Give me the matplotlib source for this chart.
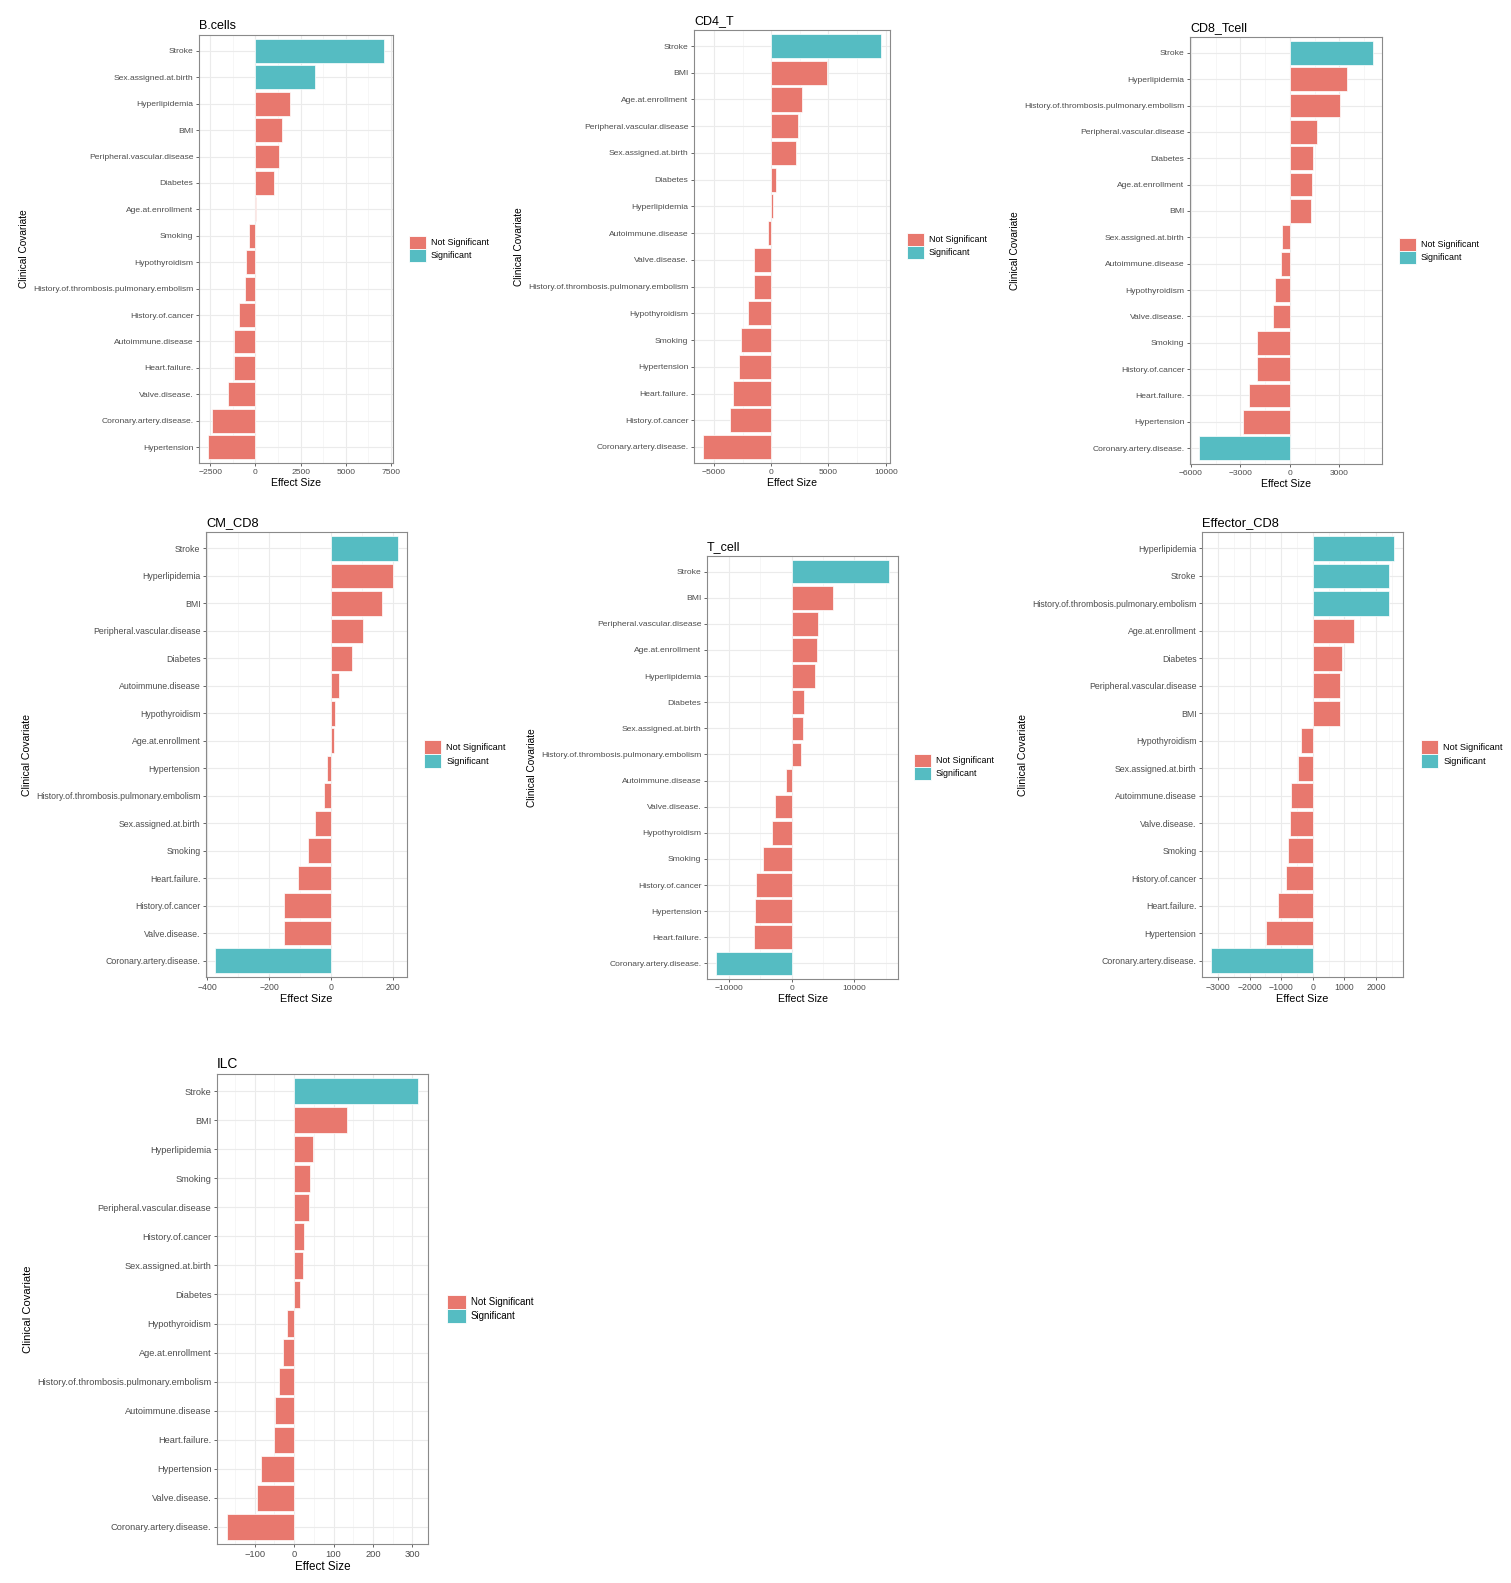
import matplotlib
matplotlib.use("Agg")
import matplotlib.pyplot as plt
from matplotlib.patches import Patch
from matplotlib.ticker import FixedLocator

plt.rcParams['font.family'] = ['Liberation Sans', 'DejaVu Sans']

W, H = 1511, 1583
NOT_SIG = '#E8786E'
SIG = '#55BCC2'

# ---- data (top to bottom as drawn) ----
bcells_labels = ["Stroke", "Sex.assigned.at.birth", "Hyperlipidemia", "BMI",
                 "Peripheral.vascular.disease", "Diabetes", "Age.at.enrollment", "Smoking",
                 "Hypothyroidism", "History.of.thrombosis.pulmonary.embolism", "History.of.cancer",
                 "Autoimmune.disease", "Heart.failure.", "Valve.disease.",
                 "Coronary.artery.disease.", "Hypertension"]
bcells_values = [7130, 3280, 1940, 1480, 1310, 1020, 50, -370, -500, -590, -910,
                 -1180, -1200, -1540, -2410, -2630]
bcells_sig = [1, 1, 0, 0, 0, 0, 0, 0, 0, 0, 0, 0, 0, 0, 0, 0]
bcells_ticks = [-2500, 0, 2500, 5000, 7500]

cd4_labels = ["Stroke", "BMI", "Age.at.enrollment", "Peripheral.vascular.disease",
              "Sex.assigned.at.birth", "Diabetes", "Hyperlipidemia", "Autoimmune.disease",
              "Valve.disease.", "History.of.thrombosis.pulmonary.embolism", "Hypothyroidism",
              "Smoking", "Hypertension", "Heart.failure.", "History.of.cancer",
              "Coronary.artery.disease."]
cd4_values = [9590, 4860, 2730, 2380, 2180, 410, 170, -320, -1480, -1540, -2030,
              -2650, -2820, -3340, -3580, -5960]
cd4_sig = [1, 0, 0, 0, 0, 0, 0, 0, 0, 0, 0, 0, 0, 0, 0, 0]
cd4_ticks = [-5000, 0, 5000, 10000]

cd8_labels = ["Stroke", "Hyperlipidemia", "History.of.thrombosis.pulmonary.embolism",
              "Peripheral.vascular.disease", "Diabetes", "Age.at.enrollment", "BMI",
              "Sex.assigned.at.birth", "Autoimmune.disease", "Hypothyroidism", "Valve.disease.",
              "Smoking", "History.of.cancer", "Heart.failure.", "Hypertension",
              "Coronary.artery.disease."]
cd8_values = [5050, 3440, 3060, 1670, 1370, 1350, 1270, -460, -520, -890, -1010,
              -1970, -1990, -2480, -2820, -5520]
cd8_sig = [1, 0, 0, 0, 0, 0, 0, 0, 0, 0, 0, 0, 0, 0, 0, 1]
cd8_ticks = [-6000, -3000, 0, 3000]

cmcd8_labels = ["Stroke", "Hyperlipidemia", "BMI", "Peripheral.vascular.disease", "Diabetes",
                "Autoimmune.disease", "Hypothyroidism", "Age.at.enrollment", "Hypertension",
                "History.of.thrombosis.pulmonary.embolism", "Sex.assigned.at.birth", "Smoking",
                "Heart.failure.", "History.of.cancer", "Valve.disease.",
                "Coronary.artery.disease."]
cmcd8_values = [216, 200, 164, 104, 68, 27, 14, 10, -13, -23, -53, -75, -106, -152, -153, -375]
cmcd8_sig = [1, 0, 0, 0, 0, 0, 0, 0, 0, 0, 0, 0, 0, 0, 0, 1]
cmcd8_ticks = [-400, -200, 0, 200]

tcell_labels = ["Stroke", "BMI", "Peripheral.vascular.disease", "Age.at.enrollment",
                "Hyperlipidemia", "Diabetes", "Sex.assigned.at.birth",
                "History.of.thrombosis.pulmonary.embolism", "Autoimmune.disease",
                "Valve.disease.", "Hypothyroidism", "Smoking", "History.of.cancer",
                "Hypertension", "Heart.failure.", "Coronary.artery.disease."]
tcell_values = [15570, 6560, 4160, 4050, 3790, 1920, 1810, 1440, -910, -2670, -3200,
                -4640, -5760, -5870, -6030, -12110]
tcell_sig = [1, 0, 0, 0, 0, 0, 0, 0, 0, 0, 0, 0, 0, 0, 0, 1]
tcell_ticks = [-10000, 0, 10000]

eff_labels = ["Hyperlipidemia", "Stroke", "History.of.thrombosis.pulmonary.embolism",
              "Age.at.enrollment", "Diabetes", "Peripheral.vascular.disease", "BMI",
              "Hypothyroidism", "Sex.assigned.at.birth", "Autoimmune.disease", "Valve.disease.",
              "Smoking", "History.of.cancer", "Heart.failure.", "Hypertension",
              "Coronary.artery.disease."]
eff_values = [2570, 2420, 2410, 1310, 930, 860, 850, -370, -465, -700, -730, -770,
              -860, -1100, -1470, -3220]
eff_sig = [1, 1, 1, 0, 0, 0, 0, 0, 0, 0, 0, 0, 0, 0, 0, 1]
eff_ticks = [-3000, -2000, -1000, 0, 1000, 2000]

ilc_labels = ["Stroke", "BMI", "Hyperlipidemia", "Smoking", "Peripheral.vascular.disease",
              "History.of.cancer", "Sex.assigned.at.birth", "Diabetes", "Hypothyroidism",
              "Age.at.enrollment", "History.of.thrombosis.pulmonary.embolism",
              "Autoimmune.disease", "Heart.failure.", "Hypertension", "Valve.disease.",
              "Coronary.artery.disease."]
ilc_values = [315, 134, 49, 41, 38, 25, 23, 15, -19, -29, -38, -48, -50, -84, -94, -171]
ilc_sig = [1, 0, 0, 0, 0, 0, 0, 0, 0, 0, 0, 0, 0, 0, 0, 0]
ilc_ticks = [-100, 0, 100, 200, 300]

# ---- layout: title, data, axes box in pixels (l, t, r, b), legend anchor, font scale ----
panels = [
    ("B.cells", bcells_labels, bcells_values, bcells_sig, bcells_ticks,
     (199, 35, 393, 463), (409, 249), 1.0),
    ("CD4_T", cd4_labels, cd4_values, cd4_sig, cd4_ticks,
     (694, 30, 890, 463), (907, 246), 1.0),
    ("CD8_Tcell", cd8_labels, cd8_values, cd8_sig, cd8_ticks,
     (1190, 37, 1382, 464), (1399, 251), 1.0),
    ("CM_CD8", cmcd8_labels, cmcd8_values, cmcd8_sig, cmcd8_ticks,
     (206, 532, 407, 977), (424, 754), 1.03),
    ("T_cell", tcell_labels, tcell_values, tcell_sig, tcell_ticks,
     (707, 556, 898, 979), (914, 767), 1.0),
    ("Effector_CD8", eff_labels, eff_values, eff_sig, eff_ticks,
     (1202, 532, 1403, 977), (1421, 754), 1.03),
    ("ILC", ilc_labels, ilc_values, ilc_sig, ilc_ticks,
     (217, 1074, 428, 1544), (447, 1309), 1.1),
]

fig = plt.figure(figsize=(W / 100, H / 100), dpi=100)
fig.patch.set_facecolor('white')

for title, labels, values, sig, ticks, box, leg, s in panels:
    l, t, r, b = box
    ax = fig.add_axes([l / W, 1 - b / H, (r - l) / W, (b - t) / H])
    n = len(labels)
    ypos = [n - 1 - i for i in range(n)]
    colors = [SIG if g else NOT_SIG for g in sig]
    ax.barh(ypos, values, height=0.9, color=colors, edgecolor='white', linewidth=0.5, zorder=3)

    lo, hi = min(min(values), 0), max(max(values), 0)
    pad = 0.05 * (hi - lo)
    ax.set_xlim(lo - pad, hi + pad)
    ax.set_ylim(-0.6, n - 0.4)

    ax.set_yticks(ypos)
    ax.set_yticklabels(labels)
    ax.set_xticks(ticks)
    step = ticks[1] - ticks[0]
    minor = [ticks[0] - step / 2] + [tk + step / 2 for tk in ticks]
    ax.xaxis.set_minor_locator(FixedLocator(minor))

    ax.grid(True, which='major', color='#EBEBEB', linewidth=0.8, zorder=0)
    ax.grid(True, which='minor', axis='x', color='#F2F2F2', linewidth=0.45, zorder=0)
    ax.set_axisbelow(True)

    ax.tick_params(axis='both', which='major', labelsize=6.1 * s, colors='#4D4D4D',
                   length=2.5, width=0.6, pad=1.5)
    ax.tick_params(axis='x', which='minor', length=0)
    for sp in ax.spines.values():
        sp.set_color('#8A8A8A')
        sp.set_linewidth(0.8)

    ax.set_title(title, loc='left', fontsize=9 * s, pad=4, color='black')
    ax.set_xlabel("Effect Size", fontsize=7.6 * s, labelpad=1.5)
    ax.set_ylabel("Clinical Covariate", fontsize=7.3 * s, labelpad=3)

    handles = [Patch(facecolor=NOT_SIG, edgecolor='white', linewidth=0.6, label='Not Significant'),
               Patch(facecolor=SIG, edgecolor='white', linewidth=0.6, label='Significant')]
    ax.legend(handles=handles, loc='center left', bbox_to_anchor=(leg[0] / W, 1 - leg[1] / H),
              bbox_transform=fig.transFigure, frameon=False, fontsize=6.4 * s,
              handlelength=1.9, handleheight=1.9, labelspacing=0.0, handletextpad=0.55,
              borderpad=0, borderaxespad=0)

fig.savefig("out.png", dpi=100, facecolor='white')
